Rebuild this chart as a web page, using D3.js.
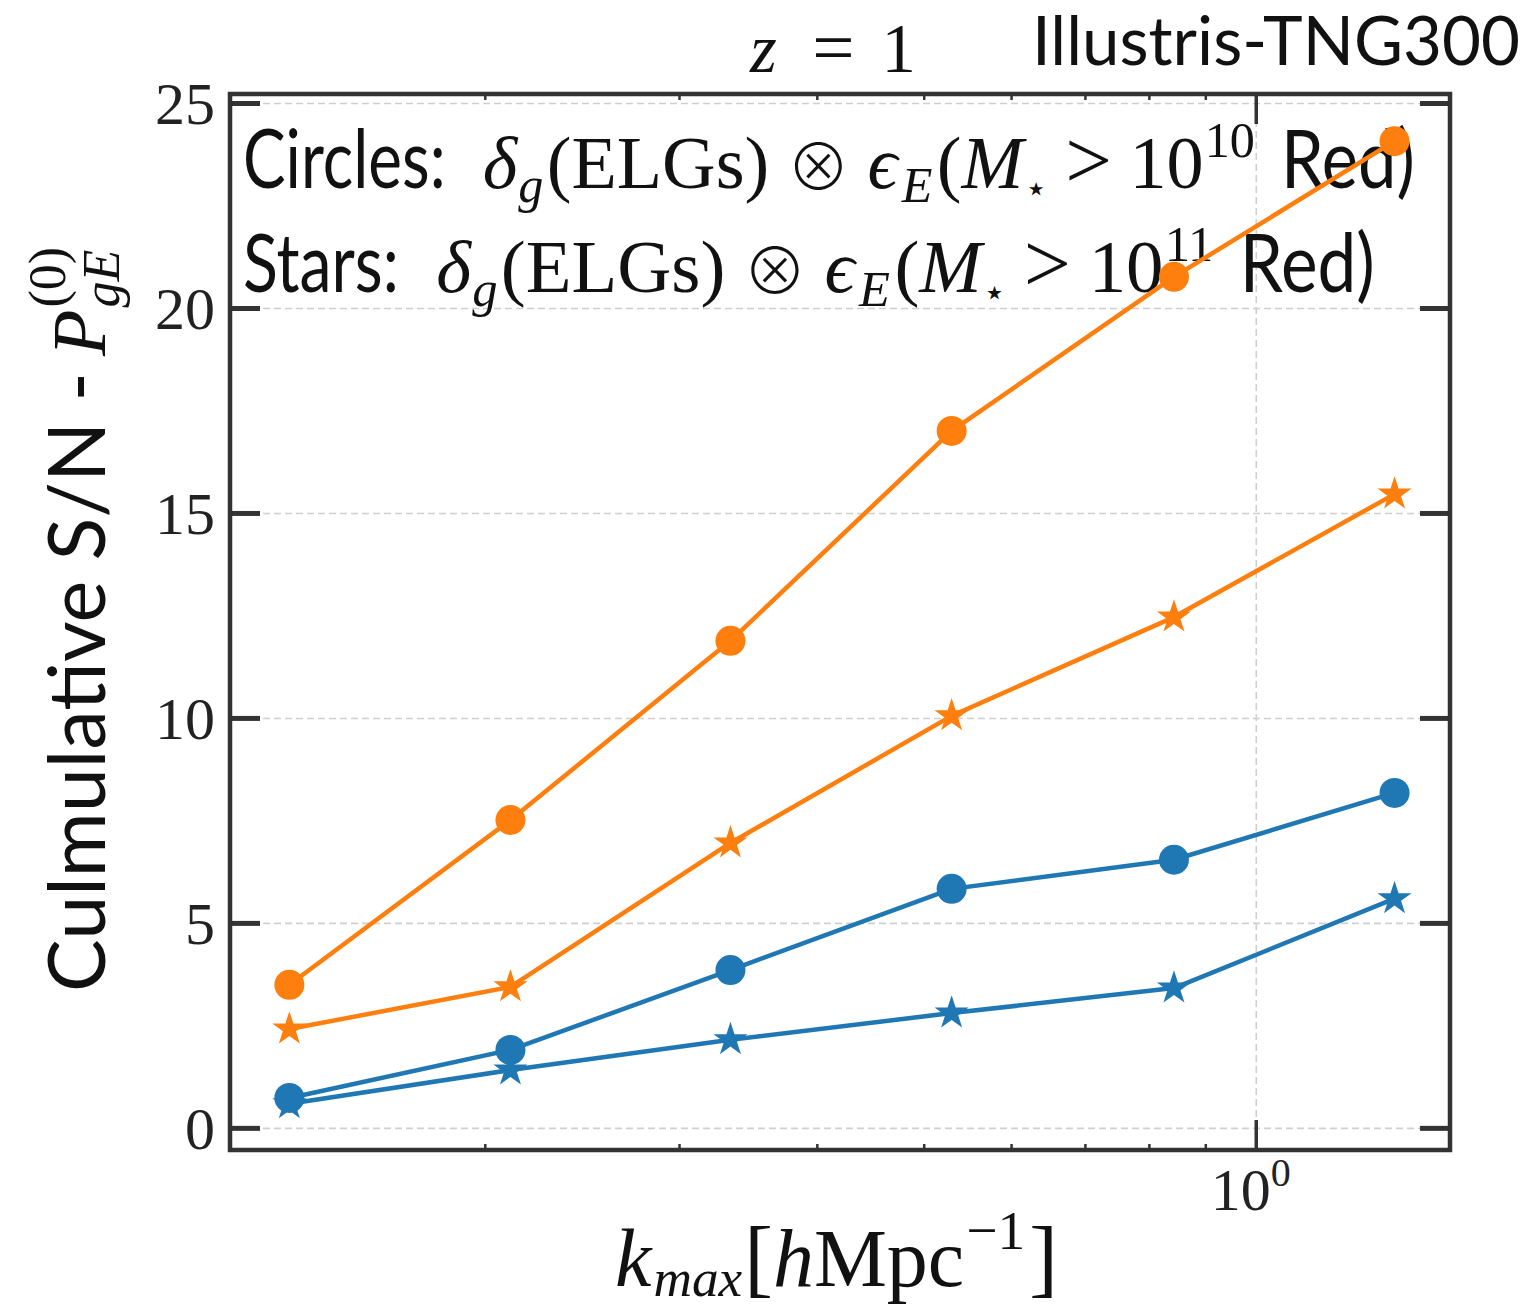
<!DOCTYPE html>
<html><head><meta charset="utf-8">
<script src="https://cdn.jsdelivr.net/npm/d3@7"></script>
<style>body{margin:0;background:#fff} svg{display:block}</style>
</head><body>
<svg id="chart" width="1536" height="1314"></svg>
<script>
// Cumulative signal-to-noise vs k_max
const kmax = [0.133, 0.211, 0.334, 0.53, 0.843, 1.336];
const orangeCircles = [3.49, 7.51, 11.88, 17.0, 20.76, 24.07];
const orangeStars   = [2.41, 3.44, 6.95, 10.05, 12.46, 15.46];
const blueCircles   = [0.73, 1.90, 3.85, 5.83, 6.54, 8.17];
const blueStars     = [0.59, 1.41, 2.15, 2.80, 3.41, 5.59];
const yTicks = [0, 5, 10, 15, 20, 25];
const xMajorTicks = [1];
const xMinorTicks = [0.2, 0.3, 0.4, 0.5, 0.6, 0.7, 0.8, 0.9];

const ORANGE = "#ff7f0e", BLUE = "#1f77b4";
const FONTS = {
  sans: "Lato, 'Open Sans', sans-serif",
  serif: "'Liberation Serif', 'DejaVu Serif', serif",
  sym: "'Noto Sans CJK SC', 'DejaVu Sans', sans-serif"
};
const FRAME = "#333";
const INK = "#111";

const L = 230, R = 1450, T = 94, B = 1150;
const svg = d3.select("#chart");

const x = d3.scaleLog().domain([0.1175, 1.5]).range([L, R]);
const y = d3.scaleLinear().domain([-0.54, 25.22]).range([B, T]);

// grid
const gridStyle = g => {
  g.select(".domain").remove();
  g.selectAll("text").remove();
  g.selectAll("line").attr("stroke", "#cfcfcf").attr("stroke-width", 1.6).attr("stroke-dasharray", "7,4");
};
svg.append("g").attr("transform", `translate(${L},0)`)
  .call(d3.axisLeft(y).tickValues(yTicks).tickSize(-(R - L))).call(gridStyle);
svg.append("g").attr("transform", `translate(0,${B})`)
  .call(d3.axisBottom(x).tickValues(xMajorTicks).tickSize(-(B - T))).call(gridStyle);

// Rich text: a row of separate text pieces laid out left to right.
// Each piece: t, f (font key), it (italic), size, dy (down), sx (horizontal squeeze), gap (space before)
function layoutRow(g, segs, k) {
  g.selectAll("*").remove();
  let cx = 0;
  const pos = [];
  segs.forEach(s => {
    cx += (s.gap || 0) * k;
    const sx = s.sx || 1;
    const t = g.append("text")
      .attr("font-family", FONTS[s.f || "serif"])
      .attr("font-style", s.it ? "italic" : "normal")
      .attr("font-weight", s.w || 400)
      .attr("font-size", s.size * k)
      .attr("fill", INK)
      .text(s.t);
    t.attr("transform", `translate(${cx},${(s.dy || 0) * k}) scale(${sx},1)`);
    pos.push(cx);
    cx += t.node().getComputedTextLength() * sx;
  });
  return { w: cx, pos };
}
// draw a row starting at (px, py); if targetW is given the row is sized to it
function row(segs, px, py, targetW, rot) {
  const g = svg.append("g").attr("transform", `translate(${px},${py})${rot ? " rotate(" + rot + ")" : ""}`);
  let r = layoutRow(g, segs, 1);
  if (targetW) r = layoutRow(g, segs, targetW / r.w);
  return { g, pos: r.pos };
}

// annotation rows (under the data)
const annot = (name, exp) => [
  { t: name, f: "sans", size: 74, sx: 0.79 },
  { t: "δ", it: true, size: 68, gap: 34 },
  { t: "g", it: true, size: 46, dy: 13, gap: 1 },
  { t: "(ELGs)", size: 68, gap: 3 },
  { t: "⊗", f: "sym", size: 58, gap: 16, w: 300, dy: 2 },
  { t: "ϵ", it: true, size: 68, gap: 16 },
  { t: "E", it: true, size: 46, dy: 13, gap: 4 },
  { t: "(", size: 68, gap: 4 },
  { t: "M", it: true, size: 68 },
  { t: "⋆", f: "sym", size: 34, dy: 12, gap: 1 },
  { t: ">", size: 76, gap: 16 },
  { t: "10", size: 68, gap: 16 },
  { t: exp, size: 46, dy: -28, gap: 1 },
  { t: "Red)", f: "sans", size: 74, sx: 0.85, gap: 24 }
];
row(annot("Circles:", "10"), 243, 188, 1172);
row(annot("Stars:", "11"), 243, 292, 1132);

// series
const series = [
  { vals: orangeCircles, color: ORANGE, shape: "circle" },
  { vals: blueCircles, color: BLUE, shape: "circle" },
  { vals: orangeStars, color: ORANGE, shape: "star" },
  { vals: blueStars, color: BLUE, shape: "star" }
];
const lineGen = d3.line().x((d, i) => x(kmax[i])).y(d => y(d));
const star = d3.symbol(d3.symbolStar, 360);
series.forEach(s => {
  const g = svg.append("g");
  g.append("path").attr("d", lineGen(s.vals)).attr("fill", "none")
    .attr("stroke", s.color).attr("stroke-width", 4.5).attr("stroke-linejoin", "round");
  s.vals.forEach((v, i) => {
    if (s.shape === "circle")
      g.append("circle").attr("cx", x(kmax[i])).attr("cy", y(v)).attr("r", 15).attr("fill", s.color);
    else
      g.append("path").attr("d", star()).attr("transform", `translate(${x(kmax[i])},${y(v)})`).attr("fill", s.color);
  });
});

// ticks (inward) and frame
const tickStyle = (w) => g => {
  g.select(".domain").remove();
  g.selectAll("line").attr("stroke", FRAME).attr("stroke-width", w);
};
const noText = g => g.selectAll("text").remove();
svg.append("g").attr("transform", `translate(0,${B})`)
  .call(d3.axisBottom(x).tickValues(xMinorTicks).tickSize(-6).tickFormat("")).call(tickStyle(2.5)).call(noText);
svg.append("g").attr("transform", `translate(0,${T})`)
  .call(d3.axisTop(x).tickValues(xMinorTicks).tickSize(-6).tickFormat("")).call(tickStyle(2.5)).call(noText);
svg.append("g").attr("transform", `translate(0,${B})`)
  .call(d3.axisBottom(x).tickValues(xMajorTicks).tickSize(-30).tickFormat("")).call(tickStyle(3.5)).call(noText);
svg.append("g").attr("transform", `translate(0,${T})`)
  .call(d3.axisTop(x).tickValues(xMajorTicks).tickSize(-30).tickFormat("")).call(tickStyle(3.5)).call(noText);
const yl = svg.append("g").attr("transform", `translate(${L},0)`)
  .call(d3.axisLeft(y).tickValues(yTicks).tickSize(-30).tickPadding(15)).call(tickStyle(5));
yl.selectAll("text").attr("font-family", FONTS.serif).attr("font-size", 60).attr("fill", "#222").attr("dy", "0.34em");
svg.append("g").attr("transform", `translate(${R},0)`)
  .call(d3.axisRight(y).tickValues(yTicks).tickSize(-30).tickFormat("")).call(tickStyle(5)).call(noText);

svg.append("rect").attr("x", L).attr("y", T).attr("width", R - L).attr("height", B - T)
  .attr("fill", "none").attr("stroke", FRAME).attr("stroke-width", 4.5);

// x tick label 10^0
xMajorTicks.forEach(v => {
  const t = svg.append("text").attr("x", x(v) - 5).attr("y", 1210).attr("text-anchor", "middle")
    .attr("font-family", FONTS.serif).attr("fill", "#222");
  t.append("tspan").attr("font-size", 60).text("10");
  t.append("tspan").attr("font-size", 40).attr("dy", -24).text(Math.round(Math.log10(v)));
});

// axis labels
row([{ t: "k", it: true, size: 80 }, { t: "max", it: true, size: 52, dy: 10, gap: 2 },
     { t: "[", size: 84, gap: 2 }, { t: "h", it: true, size: 80 }, { t: "Mpc", size: 80 },
     { t: "−1", size: 54, dy: -36, gap: 2 }, { t: "]", size: 84, gap: 4 }],
    615, 1286, 443);
const ylab = row([{ t: "Culmulative S/N -", f: "sans", size: 79 }, { t: "P", it: true, size: 76, gap: 16 },
     { t: "gE", it: true, size: 52, dy: 14, gap: 2 }],
    105, 992, null, -90);
// superscript stacked over the subscript of P
ylab.g.append("text").attr("font-family", FONTS.serif).attr("font-size", 52).attr("fill", INK)
  .attr("transform", `translate(${ylab.pos[2]},-40)`).text("(0)");

// titles
row([{ t: "z", it: true, size: 66 }, { t: "=", size: 72, gap: 34 }, { t: "1", size: 66, gap: 26 }], 750, 72, 166);
row([{ t: "Illustris-TNG300", f: "sans", size: 66 }], 1032, 65, 488);
</script></body></html>
